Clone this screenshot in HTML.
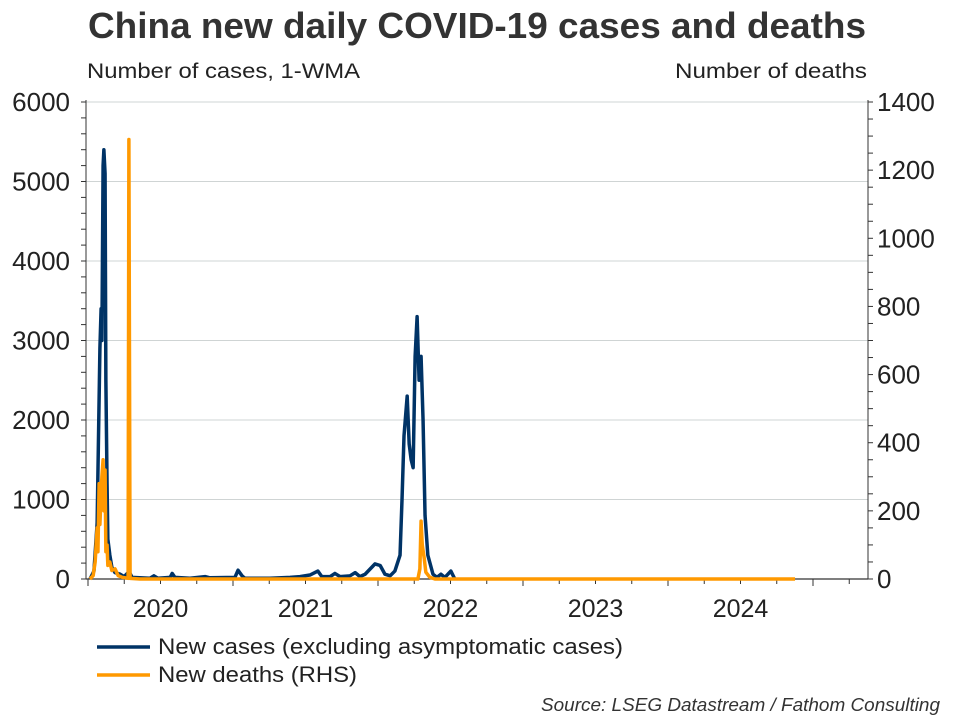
<!DOCTYPE html>
<html><head><meta charset="utf-8"><style>
body{margin:0;background:#fff;font-family:"Liberation Sans",sans-serif}
svg{display:block}
</style></head><body>
<svg id="c" width="960" height="720">
<text x="477" y="38" text-anchor="middle" font-size="36" font-weight="bold" fill="#333" textLength="778" lengthAdjust="spacingAndGlyphs">China new daily COVID-19 cases and deaths</text>
<text x="87" y="78" font-size="21" fill="#222" textLength="273" lengthAdjust="spacingAndGlyphs">Number of cases, 1-WMA</text>
<text x="867" y="78" text-anchor="end" font-size="21" fill="#222" textLength="192" lengthAdjust="spacingAndGlyphs">Number of deaths</text>
<g id="grid"></g><g id="axes"></g><g id="series"></g>
<line x1="97" y1="647" x2="150" y2="647" stroke="#003366" stroke-width="3.5"/>
<text x="158" y="654" font-size="22" fill="#222" textLength="465" lengthAdjust="spacingAndGlyphs">New cases (excluding asymptomatic cases)</text>
<line x1="97" y1="675" x2="150" y2="675" stroke="#ff9900" stroke-width="3.5"/>
<text x="158" y="682" font-size="22" fill="#222" textLength="199" lengthAdjust="spacingAndGlyphs">New deaths (RHS)</text>
<text x="940" y="711" text-anchor="end" font-size="18" font-style="italic" fill="#333" textLength="399" lengthAdjust="spacingAndGlyphs">Source: LSEG Datastream / Fathom Consulting</text>
</svg>
<script>
// days since 2020-01-01
const caseDays=[5,15,23,30,33,35,38,40,43,45,48,50,55,60,68,81,91,101,103,111,156,166,176,207,212,219,257,295,307,370,378,388,395,458,509,534,559,579,589,610,622,635,660,673,685,698,723,736,748,761,773,786,791,796,804,809,814,819,824,829,834,839,844,849,856,869,879,889,899,914,924];
const caseVals=[0,100,700,2900,3400,3000,5200,5400,5100,2500,1200,500,300,150,80,60,30,80,100,20,10,40,10,20,70,20,10,30,15,20,110,40,10,10,20,30,50,100,30,30,70,30,40,80,30,60,190,170,60,40,100,300,1000,1800,2300,1700,1500,1400,2800,3300,2500,2800,2000,800,300,60,20,60,20,100,0];
const deathDays=[5,13,18,23,25,28,30,33,35,38,40,43,45,48,50,55,60,68,76,86,101,103,106,131,831,836,839,842,847,851,861,874,1781];
const deathVals=[0,10,50,150,80,280,160,250,300,350,200,320,80,100,40,50,25,30,10,5,2,1290,2,0,0,30,170,100,60,20,5,0,0];
const leftTicks=[0,1000,2000,3000,4000,5000,6000];
const rightTicks=[0,200,400,600,800,1000,1200,1400];
const years=[2020,2021,2022,2023,2024];

const NS="http://www.w3.org/2000/svg";
const X0=88,PX_YEAR=145,YB=579,YT=102,XL=86,XR=868;
const xd=d=>X0+d/365.25*PX_YEAR;
const yL=v=>YB-v*(YB-YT)/6000;
const yR=v=>YB-v*(YB-YT)/1400;
function mk(tag,attrs,parent){const e=document.createElementNS(NS,tag);for(const k in attrs)e.setAttribute(k,attrs[k]);parent.appendChild(e);return e;}
const grid=document.getElementById('grid'),axes=document.getElementById('axes'),ser=document.getElementById('series');
leftTicks.forEach(v=>{
  if(v>0){const g=mk('line',{x1:XL,x2:XR,y1:yL(v),y2:yL(v),stroke:'#cfd4d4','stroke-width':1},grid);
  
  }
  const t=mk('text',{x:70,y:yL(v)+9,'text-anchor':'end','font-size':26,fill:'#222'},axes);t.textContent=v;
  
  
});
for(let v=0;v<=6000;v+=200){mk('line',{x1:XL-5,x2:XL,y1:yL(v),y2:yL(v),stroke:'#333','stroke-width':1},axes);}
rightTicks.forEach(v=>{
  const t=mk('text',{x:877,y:yR(v)+9,'font-size':26,fill:'#222'},axes);t.textContent=v;
  
  
});
for(let v=0;v<=1400;v+=50){mk('line',{x1:XR,x2:XR+5,y1:yR(v),y2:yR(v),stroke:'#333','stroke-width':1},axes);}
mk('line',{x1:XL,x2:XL,y1:YT-2,y2:YB,stroke:'#333','stroke-width':1},axes);
mk('line',{x1:XR,x2:XR,y1:YT-2,y2:YB,stroke:'#333','stroke-width':1},axes);
mk('line',{x1:XL,x2:XR,y1:YB,y2:YB,stroke:'#333','stroke-width':1.2},axes);
for(let q=0;q<=21;q++){const x=X0+q*PX_YEAR/4;if(x>XR)break;mk('line',{x1:x,x2:x,y1:YB,y2:YB+(q%4==0?7:5),stroke:'#333','stroke-width':1},axes);}
years.forEach((y,i)=>{const t=mk('text',{x:X0+(i+0.5)*PX_YEAR,y:617,'text-anchor':'middle','font-size':25,fill:'#222'},axes);t.textContent=y;
  
  });
const cp=mk('polyline',{points:caseDays.map((d,i)=>xd(d)+','+yL(caseVals[i])).join(' '),fill:'none',stroke:'#003366','stroke-width':3.5,'stroke-linejoin':'round'},ser);


const dp=mk('polyline',{points:deathDays.map((d,i)=>xd(d)+','+yR(deathVals[i])).join(' '),fill:'none',stroke:'#ff9900','stroke-width':3.5,'stroke-linejoin':'round'},ser);


</script>
</body></html>
